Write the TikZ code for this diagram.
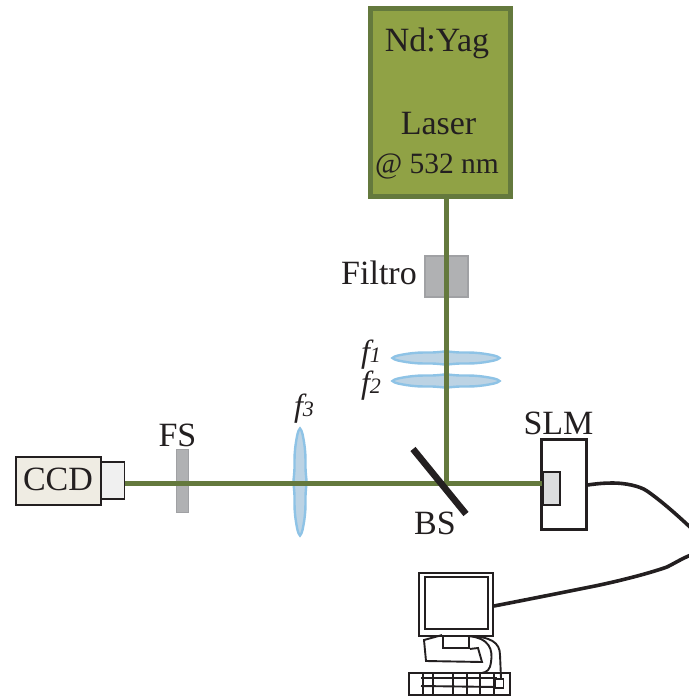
\documentclass[tikz,border=0pt]{standalone}
\usepackage{fontspec}
\setmainfont{Liberation Serif}
\usetikzlibrary{positioning, calc}
\definecolor{ink}{HTML}{231F20}
\definecolor{lasergreen}{HTML}{90A245}
\definecolor{beamgreen}{HTML}{64793D}
\definecolor{filtergrey}{HTML}{B0B1B3}
\definecolor{filteredge}{HTML}{A0A1A4}
\definecolor{lensfill}{HTML}{BCD3E4}
\definecolor{lensedge}{HTML}{8EC3E6}
\definecolor{ccdfill}{HTML}{EFECE3}
\definecolor{capfill}{HTML}{F0F0F0}
\definecolor{slmfill}{HTML}{DCDDDE}
\newcommand{\LabelF}{\fontsize{34}{34}\selectfont}
\newcommand{\lensf}[2]{%
  \begin{scope}[shift={#1},rotate=#2]
    \draw[fill=lensfill, draw=lensedge, line width=2.4] (-53.5,0) .. controls (-52,-2) and (-46,-3) .. (-40,-4)
      .. controls (-30,-5.5) and (-26,-5.5) .. (-16,-5.5) .. controls (-8,-5.5) and (-4,-6.5) .. (0,-6.5)
      .. controls (4,-6.5) and (8,-5.5) .. (16,-5.5) .. controls (26,-5.5) and (30,-5.5) .. (40,-4)
      .. controls (46,-3) and (52,-2) .. (53.5,0) .. controls (52,2) and (46,3) .. (40,4)
      .. controls (30,5.5) and (26,5.5) .. (16,5.5) .. controls (8,5.5) and (4,6.5) .. (0,6.5)
      .. controls (-4,6.5) and (-8,5.5) .. (-16,5.5) .. controls (-26,5.5) and (-30,5.5) .. (-40,4)
      .. controls (-46,3) and (-52,2) .. (-53.5,0) -- cycle;
  \end{scope}
}
\newcommand{\flabel}[3]{%
  \node[anchor=base, font=\fontsize{32}{32}\selectfont\itshape, text=ink, inner sep=0] (#1) at #2 {f{\fontsize{22}{22}\selectfont #3}};
}
\tikzset{
  txt/.style={anchor=base, font=\LabelF, text=ink, inner sep=0},
  beam/.style={draw=beamgreen, line width=5.4},
  wire/.style={draw=ink, line width=3.6},
  pcline/.style={draw=ink, line width=1.9},
  plate/.style={draw=filteredge, fill=filtergrey, line width=1.6, inner sep=0},
}

\begin{document}
\begin{tikzpicture}[x=1pt,y=-1pt]
\useasboundingbox[fill=white] (0,0) rectangle (688,696);
% laser
\node[draw=beamgreen, fill=lasergreen, line width=5, minimum width=140, minimum height=188, inner sep=0] (laser) at (440.5,102.5) {};
\node[txt] (ndyag) at (437,51) {Nd:Yag};
\node[txt] (lasertxt) at (438.5,134) {Laser};
\node[txt, font=\fontsize{29.5}{30}\selectfont] (nm) at (437,173) {@ 532 nm};
% filters
\node[plate, minimum width=43, minimum height=41] (filtro) at (446.5,276.5) {};
\node[txt] (filtrotxt) at (379,284) {Filtro};
\node[plate, minimum width=12, minimum height=63] (fs) at (182.5,481) {};
\node[txt] (fstxt) at (177.5,446) {FS};
% lenses
\lensf{(446,358)}{0}
\lensf{(446,381)}{0}
\lensf{(300,482)}{90}
\flabel{fone}{(371,362)}{1}
\flabel{ftwo}{(371,393)}{2}
\flabel{fthree}{(304,416)}{3}
% camera
\node[draw=ink, fill=capfill, line width=1.8, minimum width=24, minimum height=37, inner sep=0] (ccdcap) at (112.5,480.5) {};
\node[draw=ink, fill=ccdfill, line width=2.2, minimum width=85, minimum height=48, inner sep=0] (ccd) at (58.5,481) {};
\node[txt] (ccdtxt) at (58,490) {CCD};
% slm
\node[draw=ink, fill=white, line width=3, minimum width=45, minimum height=90, inner sep=0] (slm) at (563.5,484) {};
\node[draw=ink, fill=slmfill, line width=2, minimum width=17, minimum height=33, inner sep=0] (panel) at (551.5,488.5) {};
\node[txt] (slmtxt) at (558.5,434) {SLM};
% beams
\coordinate (bs) at (446.5,483.3);
\draw[beam] (bs |- laser.south) -- (bs);
\draw[beam] (ccdcap.east |- bs) -- (panel.west |- bs);
% beam splitter
\coordinate (bsa) at (413,449);
\coordinate (bsb) at (466,514);
\draw[draw=ink, line width=6.6] (bsa) -- (bsb);
\node[txt] (bstxt) at (435,534) {BS};
% cables
\coordinate (edgea) at (691,528);
\coordinate (edgeb) at (691,555);
\draw[wire] (slm.east |- 0,485) .. controls (598,483.5) and (605,483) .. (613,483) .. controls (625,483) and (640,486) .. (647,491) .. controls (660,500) and (675,513) .. (edgea);
% computer
\node[pcline, fill=white, minimum width=74, minimum height=63, inner sep=0] (monitor) at (456,604.5) {};
\node[pcline, fill=white, minimum width=63, minimum height=52, inner sep=0] (screen) at (456.5,603) {};
\draw[wire] (monitor.east |- 0,606) .. controls (530,599) and (560,593) .. (590,587) .. controls (620,581) and (650,573) .. (667,567) .. controls (675,563) and (683,558) .. (edgeb);
\node[pcline, minimum width=26, minimum height=12, inner sep=0] (stand) at (456,642) {};
\draw[pcline] (stand.north west) -- (424,640) -- (426,661) -- (482,662) -- (478,648) -- (stand.south east);
\node[pcline, minimum width=101, minimum height=22, inner sep=0] (keyboard) at (459.5,684) {};
\draw[pcline] (421,678) -- (497,678);
\draw[pcline] (421,686) -- (497,687);
\foreach \xk in {423,433,453,467,480,494}{
  \draw[pcline] (\xk,673) -- (\xk,695);
}
\draw[pcline] (468,636) .. controls (490,638) and (493,650) .. (491,662) .. controls (490,670) and (487,672) .. (482,673);
\draw[pcline] (470,636) .. controls (490,637) and (500,642) .. (500,655) -- (501,678);
\node[pcline, fill=white, minimum width=8, minimum height=9, inner sep=0] (mouse) at (499.5,683.5) {};
\end{tikzpicture}
\end{document}
